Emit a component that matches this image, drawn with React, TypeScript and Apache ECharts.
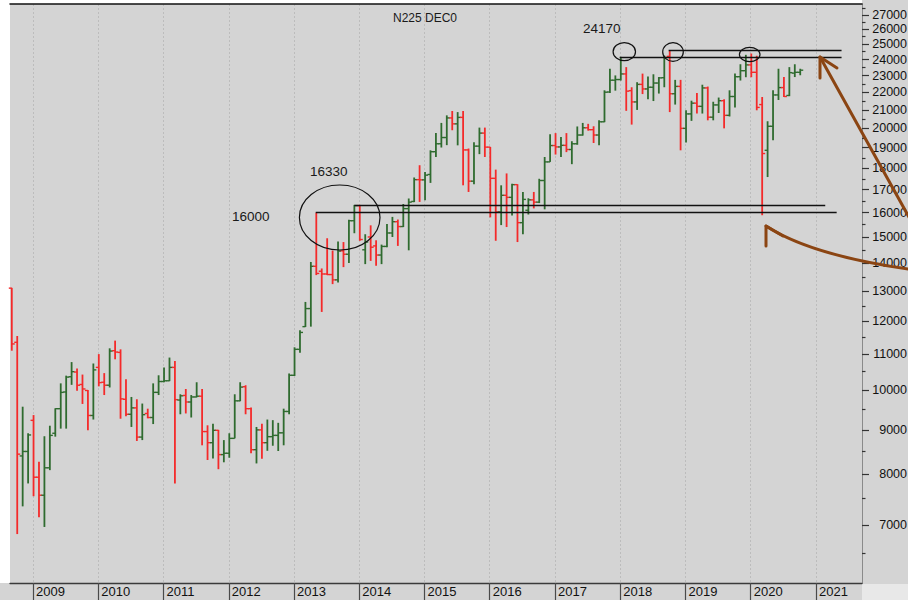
import React, { useEffect, useRef } from "react";
import * as echarts from "echarts";

// Monthly bars, Sep 2008 .. Oct 2020
const months = [
  "2008-09", "2008-10", "2008-11", "2008-12",
  "2009-01", "2009-02", "2009-03", "2009-04", "2009-05", "2009-06", "2009-07", "2009-08", "2009-09", "2009-10", "2009-11", "2009-12",
  "2010-01", "2010-02", "2010-03", "2010-04", "2010-05", "2010-06", "2010-07", "2010-08", "2010-09", "2010-10", "2010-11", "2010-12",
  "2011-01", "2011-02", "2011-03", "2011-04", "2011-05", "2011-06", "2011-07", "2011-08", "2011-09", "2011-10", "2011-11", "2011-12",
  "2012-01", "2012-02", "2012-03", "2012-04", "2012-05", "2012-06", "2012-07", "2012-08", "2012-09", "2012-10", "2012-11", "2012-12",
  "2013-01", "2013-02", "2013-03", "2013-04", "2013-05", "2013-06", "2013-07", "2013-08", "2013-09", "2013-10", "2013-11", "2013-12",
  "2014-01", "2014-02", "2014-03", "2014-04", "2014-05", "2014-06", "2014-07", "2014-08", "2014-09", "2014-10", "2014-11", "2014-12",
  "2015-01", "2015-02", "2015-03", "2015-04", "2015-05", "2015-06", "2015-07", "2015-08", "2015-09", "2015-10", "2015-11", "2015-12",
  "2016-01", "2016-02", "2016-03", "2016-04", "2016-05", "2016-06", "2016-07", "2016-08", "2016-09", "2016-10", "2016-11", "2016-12",
  "2017-01", "2017-02", "2017-03", "2017-04", "2017-05", "2017-06", "2017-07", "2017-08", "2017-09", "2017-10", "2017-11", "2017-12",
  "2018-01", "2018-02", "2018-03", "2018-04", "2018-05", "2018-06", "2018-07", "2018-08", "2018-09", "2018-10", "2018-11", "2018-12",
  "2019-01", "2019-02", "2019-03", "2019-04", "2019-05", "2019-06", "2019-07", "2019-08", "2019-09", "2019-10", "2019-11", "2019-12",
  "2020-01", "2020-02", "2020-03", "2020-04", "2020-05", "2020-06", "2020-07", "2020-08", "2020-09", "2020-10",
];

const opens = [
  13100, 11350, 8400, 8500,
  9230, 7940, 7570, 8140, 8920, 9520, 9950, 10360, 10490, 10150, 9990, 9350,
  10620, 10210, 10130, 11100, 11050, 9760, 9380, 9540, 8830, 9400, 9300, 9940,
  10230, 10250, 10620, 9740, 9860, 9690, 9820, 9840, 8960, 8700, 8990, 8430,
  8460, 8800, 9720, 10090, 9520, 8540, 9000, 8700, 8840, 8870, 8930, 9450,
  10400, 11140, 11830, 12410, 13880, 13700, 13600, 13580, 13390, 14460, 14330, 15660,
  16300, 14500, 15000, 14650, 14300, 14630, 15160, 15620, 15420, 16170, 16480, 17460,
  17450, 17700, 18800, 19200, 19520, 20560, 20240, 20590, 18890, 17390, 19080, 19750,
  19030, 17520, 16030, 16750, 16660, 17230, 15580, 16100, 16550, 16450, 17420, 18300,
  19110, 19040, 19120, 18910, 19200, 19650, 20030, 19930, 19650, 20350, 22020, 22720,
  22760, 23100, 22100, 21450, 22470, 22200, 22300, 22550, 22870, 24200, 21920, 22350,
  20000, 20780, 21380, 21200, 22260, 20600, 21280, 21520, 20700, 21760, 22930, 23300,
  23660, 23200, 21300, 18870, 20110, 21850, 22280, 21820, 23150, 23200,
];

const highs = [
  13110, 11540, 9570, 8920,
  9360, 8270, 8850, 9100, 9530, 10180, 10390, 10770, 10590, 10420, 10000, 10730,
  11000, 10460, 11170, 11400, 11140, 10290, 9820, 9760, 9650, 9520, 10180, 10400,
  10620, 10900, 10800, 9890, 10030, 9870, 10210, 10030, 9110, 9150, 9000, 8760,
  8920, 9890, 10210, 10130, 9550, 9070, 9150, 9250, 9235, 9170, 9520, 10450,
  11200, 11720, 12630, 14040, 16000, 13800, 14950, 14470, 14820, 14800, 15700, 16330,
  16330, 15110, 15470, 14870, 14700, 15520, 15820, 15710, 16370, 16610, 17560, 18140,
  17820, 18870, 19760, 20290, 20700, 20940, 20880, 20940, 18960, 19280, 20040, 20040,
  19040, 17930, 17200, 17750, 17270, 17250, 16900, 16620, 16900, 17500, 18540, 19690,
  19750, 19550, 19750, 19330, 20100, 20290, 20240, 20110, 20430, 22120, 23420, 23010,
  24170, 23520, 22300, 22600, 23120, 22950, 23080, 22910, 24250, 24570, 22740, 22740,
  20980, 21520, 21960, 22450, 22340, 21460, 21700, 21600, 22120, 23120, 23700, 24300,
  24380, 24240, 21730, 20380, 22120, 23420, 22910, 23520, 23700, 23420,
];

const lows = [
  11100, 6830, 7350, 7810,
  7550, 7140, 6960, 8090, 8840, 9030, 9030, 10140, 9980, 9640, 8990, 9250,
  10100, 9870, 10070, 10850, 9270, 9330, 9070, 8740, 8760, 9280, 9140, 9870,
  10210, 10240, 7810, 9380, 9400, 9300, 9810, 8640, 8310, 8345, 8110, 8260,
  8360, 8800, 9710, 9380, 8460, 8235, 8340, 8515, 8630, 8510, 8640, 9380,
  10380, 11040, 11820, 11830, 13560, 12300, 13560, 13240, 13300, 13850, 14000, 15150,
  14850, 13960, 14080, 13900, 13960, 14600, 15000, 14650, 15400, 14480, 16450, 16460,
  16530, 17310, 18540, 19010, 19130, 19900, 19120, 17200, 16900, 17250, 18680, 18540,
  15800, 14850, 15480, 15400, 15880, 14800, 15110, 15920, 16180, 16410, 16140, 18300,
  18660, 18540, 18780, 18190, 19150, 19620, 19880, 19240, 19120, 20330, 21960, 22100,
  22700, 20950, 20200, 21000, 21900, 21600, 21500, 21930, 22300, 20880, 21300, 18870,
  19270, 20400, 20800, 20800, 20430, 20430, 20830, 20000, 20640, 21140, 22700, 22900,
  22900, 20980, 15890, 17580, 19380, 21560, 21730, 21780, 22910, 23020,
];

const closes = [
  11300, 8440, 8500, 8880,
  7940, 7570, 8140, 8870, 9520, 9940, 10350, 10500, 10130, 10030, 9350, 10550,
  10200, 10130, 11090, 11060, 9770, 9380, 9540, 8830, 9370, 9300, 9940, 10230,
  10250, 10620, 9750, 9850, 9690, 9820, 9840, 8960, 8700, 8990, 8430, 8460,
  8800, 9720, 10080, 9520, 8540, 9000, 8700, 8840, 8870, 8930, 9450, 10400,
  11140, 11650, 12410, 13880, 13620, 13600, 13580, 13390, 14450, 14330, 15660, 16300,
  14900, 14800, 14600, 14300, 14630, 15160, 15620, 15420, 16170, 16450, 17460, 17450,
  17670, 18800, 19200, 19520, 20560, 20240, 20590, 18890, 17390, 19080, 19750, 19030,
  17520, 16030, 16750, 16660, 17230, 15580, 16570, 16550, 16450, 17420, 18300, 19110,
  19040, 19120, 18910, 19200, 19650, 20030, 19930, 19650, 20350, 22010, 22720, 22760,
  23100, 22070, 21450, 22470, 22200, 22300, 22550, 22860, 24120, 21920, 22350, 20000,
  20780, 21380, 21200, 22260, 20600, 21280, 21520, 20700, 21760, 22930, 23300, 23660,
  23200, 21140, 18710, 20110, 21850, 22280, 21760, 23180, 23200, 23330,
];

const yearLabels = ["2009", "2010", "2011", "2012", "2013", "2014", "2015", "2016", "2017", "2018", "2019", "2020", "2021"];
const majorTicks = [7000, 8000, 9000, 10000, 11000, 12000, 13000, 14000, 15000, 16000, 17000, 18000, 19000, 20000, 21000, 22000, 23000, 24000, 25000, 26000, 27000];
const minorTicks = [6500, 7500, 8500, 9500, 10500, 11500, 12500, 13500, 14500, 15500, 16500, 17500, 18500, 19500, 20500, 21500, 22500, 23500, 24500, 25500, 26500, 27500];

// horizontal level lines (value, start / end in months since Jan 2009)
const levelValues = [16000, 16330, 24170, 24570];
const levelStarts = [52, 59.1, 107.9, 116.9];
const levelEnds = [147.8, 145.7, 148.7, 148.7];

const GREEN = "#2f6b2f";
const RED = "#f42a2a";
const BROWN = "#8b4513";
const FONT = '"Liberation Sans", Arial, sans-serif';
const X_MIN = -4.23;
const X_MAX = 152.46;

function monthX(label: string): number {
  const [y, m] = label.split("-").map(Number);
  return (y - 2009) * 12 + (m - 1) + 0.1;
}

export default function App() {
  const ref = useRef<HTMLDivElement>(null);
  useEffect(() => {
    document.body.style.margin = "0";
    const chart = echarts.init(ref.current!, null, { renderer: "svg" });
    const data = months.map((m, i) => [monthX(m), opens[i], highs[i], lows[i], closes[i]]);
    const yearTicks = yearLabels.map((_, i) => i * 12);

    const renderItem = (params: any, api: any) => {
      const x = api.value(0);
      const o = api.coord([x, api.value(1)]);
      const h = api.coord([x, api.value(2)]);
      const l = api.coord([x, api.value(3)]);
      const c = api.coord([x, api.value(4)]);
      const color = api.value(4) >= api.value(1) ? GREEN : RED;
      return {
        type: "group",
        children: [
          { type: "line", shape: { x1: h[0], y1: h[1], x2: l[0], y2: l[1] }, style: { stroke: color, lineWidth: 1.8 } },
          { type: "line", shape: { x1: o[0] - 3, y1: o[1], x2: o[0], y2: o[1] }, style: { stroke: color, lineWidth: 1.4 } },
          { type: "line", shape: { x1: c[0], y1: c[1], x2: c[0] + 3, y2: c[1] }, style: { stroke: color, lineWidth: 1.4 } },
        ],
      };
    };

    const txt = (text: string, x: number, y: number, size: number, align = "left") => ({
      type: "text",
      x,
      y,
      z: 100,
      silent: true,
      style: {
        text,
        fill: "#1a1a1a",
        font: `${size}px ${FONT}`,
        align,
        textAlign: align,
        verticalAlign: "middle",
        textVerticalAlign: "middle",
      },
    });
    const ell = (cx: number, cy: number, rx: number, ry: number) => ({
      type: "ellipse",
      z: 100,
      silent: true,
      shape: { cx, cy, rx, ry },
      style: { fill: "none", stroke: "#111", lineWidth: 1.2 },
    });
    const brownLine = (points: number[][]) => ({
      type: "polyline",
      z: 110,
      silent: true,
      shape: { points },
      style: { fill: "none", stroke: BROWN, lineWidth: 3, lineCap: "round", lineJoin: "round" },
    });

    chart.setOption({
      animation: false,
      backgroundColor: "#d4d4d4",
      grid: { left: 10, top: 4, right: 46, bottom: 17, show: false, containLabel: false, outerBoundsMode: "none" },
      xAxis: [
        {
          type: "value",
          min: X_MIN,
          max: X_MAX,
          position: "bottom",
          axisLine: { show: true, onZero: false, lineStyle: { color: "#3a3a3a", width: 1.4 } },
          axisTick: { show: true, customValues: yearTicks, length: 17, inside: false, lineStyle: { color: "#4a4a4a", width: 1.2 } },
          axisLabel: {
            show: true,
            customValues: yearTicks,
            formatter: (v: number) => yearLabels[Math.round(v / 12)],
            align: "left",
            margin: 2,
            padding: [0, 0, 0, 3],
            color: "#111",
            fontSize: 13,
            fontFamily: FONT,
          },
          splitLine: { show: true, lineStyle: { color: "#bcbcbc", type: [2, 2], width: 1 } },
        },
        {
          type: "value",
          min: X_MIN,
          max: X_MAX,
          position: "top",
          axisLine: { show: true, onZero: false, lineStyle: { color: "#111", width: 1.5 } },
          axisTick: { show: false },
          axisLabel: { show: false },
          splitLine: { show: false },
        },
      ],
      yAxis: [
        {
          type: "log",
          logBase: 10,
          min: 6000,
          max: 27800,
          position: "right",
          axisLine: { show: true, onZero: false, lineStyle: { color: "#8a8a8a", width: 1 } },
          axisTick: { show: true, customValues: majorTicks, length: 7, lineStyle: { color: "#333", width: 1.2 } },
          axisLabel: {
            show: true,
            customValues: majorTicks,
            formatter: (v: number) => String(Math.round(v)),
            align: "right",
            margin: 45,
            color: "#111",
            fontSize: 12.5,
            fontFamily: FONT,
          },
          splitLine: { show: false },
        },
        {
          type: "log",
          logBase: 10,
          min: 6000,
          max: 27800,
          position: "right",
          axisLine: { show: false, onZero: false },
          axisTick: { show: true, customValues: minorTicks, length: 3.5, lineStyle: { color: "#333", width: 1.2 } },
          axisLabel: { show: false },
          splitLine: { show: false },
        },
      ],
      series: [
        {
          type: "custom",
          xAxisIndex: 0,
          yAxisIndex: 0,
          renderItem,
          data,
          encode: { x: 0, y: [1, 2, 3, 4] },
          silent: true,
          markLine: {
            silent: true,
            symbol: ["none", "none"],
            label: { show: false },
            lineStyle: { color: "#111", width: 1.3, type: "solid" },
            emphasis: { disabled: true },
            data: levelValues.map((v, i) => [
              { coord: [levelStarts[i], v] },
              { coord: [levelEnds[i], v] },
            ]),
          },
        },
      ],
      graphic: [
        { type: "rect", z: -1, silent: true, shape: { x: 0, y: 0, width: 10, height: 583 }, style: { fill: "#ffffff" } },
        { type: "rect", z: -1, silent: true, shape: { x: 0, y: 0, width: 862, height: 4 }, style: { fill: "#ffffff" } },
        { type: "rect", z: -1, silent: true, shape: { x: 862, y: 584, width: 46, height: 16 }, style: { fill: "#e8e8e8" } },
        txt("N225 DEC0", 425, 18, 12, "center"),
        txt("24170", 583, 28, 13.5),
        txt("16330", 310, 171, 13.5),
        txt("16000", 232, 216, 13.5),
        ell(624.3, 51.7, 11.2, 9),
        ell(673, 52, 10.3, 9.3),
        ell(749.7, 54.5, 10.3, 7.2),
        ell(339.7, 217.5, 40.3, 32.5),
        brownLine([[930, 255], [820, 57]]),
        brownLine([[837, 68], [820, 57], [820, 78]]),
        {
          type: "bezierCurve",
          z: 110,
          silent: true,
          shape: { x1: 766, y1: 226, cpx1: 815, cpy1: 258, x2: 930, y2: 272 },
          style: { fill: "none", stroke: BROWN, lineWidth: 3, lineCap: "round" },
        },
        brownLine([[783, 236], [766, 226], [766, 246]]),
      ],
    });
    return () => chart.dispose();
  }, []);
  return <div ref={ref} style={{ width: 908, height: 600 }} />;
}
